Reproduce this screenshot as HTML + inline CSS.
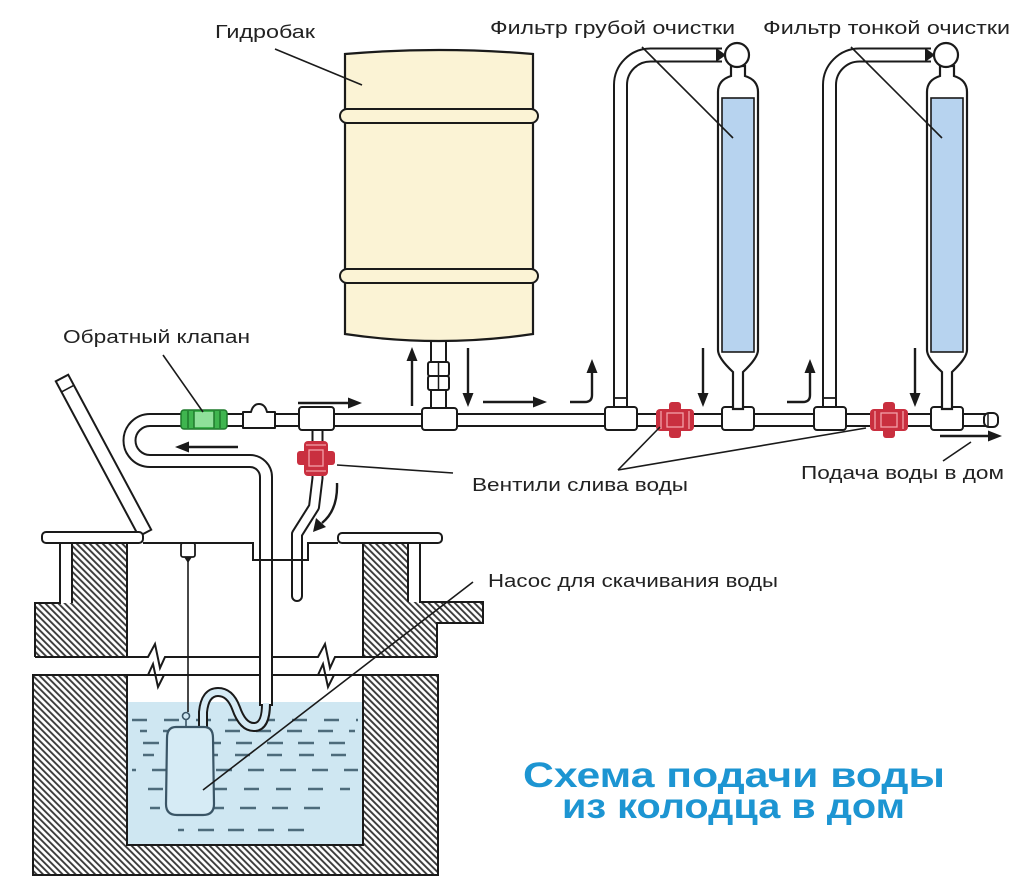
<!DOCTYPE html>
<html><head><meta charset="utf-8"><style>
html,body{margin:0;padding:0;background:#fff;}
svg{display:block;}
text{font-family:"Liberation Sans","DejaVu Sans",sans-serif;fill:#222;}
</style></head><body>
<svg width="1024" height="887" viewBox="0 0 1024 887" xmlns="http://www.w3.org/2000/svg">
<defs>
<pattern id="h" width="4.6" height="4.6" patternUnits="userSpaceOnUse" patternTransform="rotate(-45)">
<rect width="4.6" height="4.6" fill="#fff"/>
<line x1="1" y1="0" x2="1" y2="4.6" stroke="#3a3a3a" stroke-width="1.9"/>
</pattern>
</defs>
<rect width="1024" height="887" fill="#fff"/>

<!-- WELL -->
<rect x="127" y="702" width="236" height="143" fill="#cfe7f2"/>
<g stroke="#4d6b7b" stroke-width="2.6" fill="none">
<line x1="132" y1="720" x2="358" y2="720" stroke-dasharray="15 17"/>
<line x1="140" y1="731" x2="355" y2="731" stroke-dasharray="15 16" stroke-dashoffset="8"/>
<line x1="132" y1="743" x2="358" y2="743" stroke-dasharray="16 15" stroke-dashoffset="20"/>
<line x1="143" y1="755" x2="350" y2="755" stroke-dasharray="15 17" stroke-dashoffset="4"/>
<line x1="132" y1="770" x2="358" y2="770" stroke-dasharray="16 16" stroke-dashoffset="12"/>
<line x1="140" y1="789" x2="350" y2="789" stroke-dasharray="15 17" stroke-dashoffset="24"/>
<line x1="150" y1="808" x2="330" y2="808" stroke-dasharray="16 16" stroke-dashoffset="6"/>
<line x1="178" y1="830" x2="315" y2="830" stroke-dasharray="16 14" stroke-dashoffset="10"/>
</g>
<!-- lower walls -->
<path d="M33,675 H438 V875 H33 Z M127,675 V845 H363 V675 Z" fill="url(#h)" fill-rule="evenodd" stroke="#1a1a1a" stroke-width="2"/>
<!-- upper left wall -->
<path d="M72,543 L127,543 L127,657 L35,657 L35,603 L72,603 Z" fill="url(#h)"/>
<path d="M60,543 L60,603 L35,603 L35,657 M72,543 L72,603 M127,543 L127,657" fill="none" stroke="#1a1a1a" stroke-width="2"/>
<!-- upper right wall -->
<path d="M363,543 L408,543 L408,602 L483,602 L483,623 L437,623 L437,657 L363,657 Z" fill="url(#h)"/>
<path d="M363,543 L363,657 M408,543 L408,602 M420,543 L420,602 L483,602 L483,623 L437,623 L437,657" fill="none" stroke="#1a1a1a" stroke-width="2"/>
<!-- break lines -->
<path d="M35,657 L148,657 L155,644 L160,668 L165,657 L318,657 L325,644 L330,668 L335,657 L437,657" fill="none" stroke="#1a1a1a" stroke-width="2"/>
<path d="M33,675 L148,675 L153,664 L158,687 L164,675 L318,675 L323,664 L328,687 L334,675 L438,675" fill="none" stroke="#1a1a1a" stroke-width="2"/>

<!-- lever -->
<polygon points="55.8,381.3 68.2,374.7 151.2,529.7 138.8,536.3" fill="#fff" stroke="#1a1a1a" stroke-width="2"/>
<line x1="61.5" y1="391.9" x2="73.9" y2="385.3" stroke="#1a1a1a" stroke-width="1.6"/>
<!-- slabs -->
<rect x="42" y="532" width="101" height="11" rx="4" fill="#fff" stroke="#1a1a1a" stroke-width="2"/>
<rect x="338" y="533" width="104" height="10" rx="4" fill="#fff" stroke="#1a1a1a" stroke-width="2"/>

<!-- cable & bolt -->
<line x1="188" y1="558" x2="188" y2="712" stroke="#1a1a1a" stroke-width="1.6"/>
<rect x="181" y="543" width="14" height="14" rx="2" fill="#fff" stroke="#1a1a1a" stroke-width="1.8"/>
<polygon points="184,557 192,557 188,563" fill="#1a1a1a"/>

<!-- PIPES outer -->
<g fill="none" stroke="#1a1a1a" stroke-linejoin="round">
<path d="M990,420 L150,420 A20.5,20.5 0 0 0 150,461 L250,461 A16,16 0 0 1 266,477 L266,706" stroke-width="14"/>
<path d="M438.5,338 L438.5,410" stroke-width="17"/>
<path d="M620.5,410 L620.5,85 A30,30 0 0 1 650.5,55 L722,55" stroke-width="15"/>
<path d="M829.5,410 L829.5,85 A30,30 0 0 1 859.5,55 L931,55" stroke-width="15"/>
<path d="M317.5,428 L317.5,478 L314,507 L297,534 L297,596" stroke-width="12" stroke-linecap="round"/>
</g>
<g fill="none" stroke="#fff" stroke-linejoin="round">
<path d="M990,420 L150,420 A20.5,20.5 0 0 0 150,461 L250,461 A16,16 0 0 1 266,477 L266,707" stroke-width="10"/>
<path d="M438.5,336 L438.5,412" stroke-width="13"/>
<path d="M620.5,412 L620.5,85 A30,30 0 0 1 650.5,55 L724,55" stroke-width="11"/>
<path d="M829.5,412 L829.5,85 A30,30 0 0 1 859.5,55 L933,55" stroke-width="11"/>
<path d="M317.5,426 L317.5,478 L314,507 L297,534 L297,596" stroke-width="8" stroke-linecap="round"/>
</g>
<!-- hose -->
<path d="M203,727 L203,712 Q205,692 218,692 Q230,692 236,708 Q243,728 255,727 Q266,726 266,704" fill="none" stroke="#1a1a1a" stroke-width="10"/>
<path d="M203,729 L203,712 Q205,692 218,692 Q230,692 236,708 Q243,728 255,727 Q266,726 266,703" fill="none" stroke="#d6ebf5" stroke-width="6"/>
<!-- pump -->
<path d="M176,727 L204,727 Q213,727 213,738 L214,804 Q214,815 203,815 L177,815 Q166,815 166,804 L167,738 Q167,727 176,727 Z" fill="#d6ebf5" stroke="#3a5566" stroke-width="2.2"/>
<circle cx="186" cy="716" r="3.5" fill="none" stroke="#3a5566" stroke-width="1.6"/>
<line x1="186" y1="719" x2="186" y2="727" stroke="#3a5566" stroke-width="1.6"/>

<!-- lid line & notch -->
<path d="M143,543 L253,543 L253,560 L308,560 L308,543 L338,543" fill="none" stroke="#1a1a1a" stroke-width="2"/>

<!-- pipe end -->
<rect x="984" y="413" width="14" height="14" rx="5" fill="#fff" stroke="#1a1a1a" stroke-width="2"/>
<line x1="988" y1="414" x2="988" y2="426" stroke="#1a1a1a" stroke-width="1.5"/>

<!-- check valve (green) -->
<rect x="181" y="410" width="46" height="19" rx="3" fill="#3fb54f" stroke="#1f7a2c" stroke-width="1.5"/>
<rect x="194" y="412" width="20" height="15" fill="#8fe09a"/>
<g stroke="#1f7a2c" stroke-width="1.5"><line x1="188" y1="411" x2="188" y2="428"/><line x1="194" y1="411" x2="194" y2="428"/><line x1="214" y1="411" x2="214" y2="428"/><line x1="220" y1="411" x2="220" y2="428"/></g>
<!-- union -->
<path d="M243,412 L251,412 Q253,404 259,404 Q265,404 267,412 L275,412 L275,428 L243,428 Z" fill="#fff" stroke="#1a1a1a" stroke-width="2" stroke-linejoin="round"/>
<!-- T fittings -->
<g fill="#fff" stroke="#1a1a1a" stroke-width="2">
<rect x="299" y="407" width="35" height="23" rx="3"/>
<rect x="422" y="408" width="35" height="22" rx="3"/>
<rect x="605" y="407" width="32" height="23" rx="3"/>
<rect x="722" y="407" width="32" height="23" rx="3"/>
<rect x="814" y="407" width="32" height="23" rx="3"/>
<rect x="931" y="407" width="32" height="23" rx="3"/>
<rect x="428" y="362" width="21" height="14" rx="2"/>
<rect x="428" y="376" width="21" height="14" rx="2"/>
</g>
<line x1="438.5" y1="362" x2="438.5" y2="390" stroke="#1a1a1a" stroke-width="1.5"/>
<g stroke="#1a1a1a" stroke-width="1.8"><line x1="614" y1="398" x2="627" y2="398"/><line x1="823" y1="398" x2="836" y2="398"/></g>

<!-- drain valve (vertical red) -->
<rect x="297" y="451" width="38" height="14" rx="3" fill="#c92f3f"/>
<rect x="304" y="441" width="24" height="35" rx="4" fill="#c92f3f"/>
<g stroke="#f3a0a8" stroke-width="1.3" fill="none"><rect x="309" y="450" width="14" height="16"/><line x1="306" y1="445" x2="326" y2="445"/><line x1="306" y1="471" x2="326" y2="471"/></g>
<!-- red valves horizontal -->
<g>
<rect x="669" y="402" width="12" height="36" rx="3" fill="#c92f3f"/>
<rect x="656" y="409" width="38" height="22" rx="4" fill="#c92f3f"/>
<g stroke="#f3a0a8" stroke-width="1.3" fill="none"><rect x="667" y="413" width="16" height="14"/><line x1="661" y1="411" x2="661" y2="429"/><line x1="689" y1="411" x2="689" y2="429"/></g>
</g>
<g>
<rect x="883" y="402" width="12" height="36" rx="3" fill="#c92f3f"/>
<rect x="870" y="409" width="38" height="22" rx="4" fill="#c92f3f"/>
<g stroke="#f3a0a8" stroke-width="1.3" fill="none"><rect x="881" y="413" width="16" height="14"/><line x1="875" y1="411" x2="875" y2="429"/><line x1="903" y1="411" x2="903" y2="429"/></g>
</g>

<!-- TANK -->
<path d="M345,54 Q439,46 533,54 L533,334 Q439,348 345,334 Z" fill="#fbf3d5" stroke="#1a1a1a" stroke-width="2.2"/>
<rect x="340" y="109" width="198" height="14" rx="7" fill="#fbf3d5" stroke="#1a1a1a" stroke-width="2"/>
<rect x="340" y="269" width="198" height="14" rx="7" fill="#fbf3d5" stroke="#1a1a1a" stroke-width="2"/>

<!-- FILTERS -->
<g id="f1">
<path d="M731,66 L731,76 Q718,80 718,92 L718,350 Q718,358 733,372 L733,409 L743,409 L743,372 Q758,358 758,350 L758,92 Q758,80 745,76 L745,66 Z" fill="#fff" stroke="#1a1a1a" stroke-width="2.2"/>
<rect x="722" y="98" width="32" height="254" fill="#b7d3ef" stroke="#1a1a1a" stroke-width="1.6"/>
<circle cx="737" cy="55" r="12" fill="#fff" stroke="#1a1a1a" stroke-width="2.2"/>
<polygon points="716,48 726,55 716,62" fill="#1a1a1a"/>
</g>
<g transform="translate(209,0)">
<path d="M731,66 L731,76 Q718,80 718,92 L718,350 Q718,358 733,372 L733,409 L743,409 L743,372 Q758,358 758,350 L758,92 Q758,80 745,76 L745,66 Z" fill="#fff" stroke="#1a1a1a" stroke-width="2.2"/>
<rect x="722" y="98" width="32" height="254" fill="#b7d3ef" stroke="#1a1a1a" stroke-width="1.6"/>
<circle cx="737" cy="55" r="12" fill="#fff" stroke="#1a1a1a" stroke-width="2.2"/>
<polygon points="716,48 726,55 716,62" fill="#1a1a1a"/>
</g>

<!-- ARROWS -->
<g stroke="#1a1a1a" stroke-width="2.4" fill="none">
<line x1="412" y1="406" x2="412" y2="358"/>
<line x1="468" y1="348" x2="468" y2="396"/>
<line x1="483" y1="402" x2="535" y2="402"/>
<line x1="298" y1="403" x2="350" y2="403"/>
<line x1="238" y1="447" x2="188" y2="447"/>
<path d="M570,402 H585 Q592,402 592,395 V370"/>
<line x1="703" y1="348" x2="703" y2="396"/>
<path d="M787,402 H803 Q810,402 810,395 V370"/>
<line x1="915" y1="348" x2="915" y2="396"/>
<line x1="940" y1="436" x2="990" y2="436"/>
<path d="M337,483 Q338,510 322,523"/>
</g>
<g fill="#1a1a1a">
<polygon points="412,347 406.5,361 417.5,361"/>
<polygon points="468,407 462.5,393 473.5,393"/>
<polygon points="547,402 533,396.5 533,407.5"/>
<polygon points="362,403 348,397.5 348,408.5"/>
<polygon points="175,447 189,441.5 189,452.5"/>
<polygon points="592,359 586.5,373 597.5,373"/>
<polygon points="703,407 697.5,393 708.5,393"/>
<polygon points="810,359 804.5,373 815.5,373"/>
<polygon points="915,407 909.5,393 920.5,393"/>
<polygon points="1002,436 988,430.5 988,441.5"/>
<polygon points="313,532 316,518 326,527"/>
</g>

<!-- POINTER LINES -->
<g stroke="#1a1a1a" stroke-width="1.6">
<line x1="275" y1="49" x2="362" y2="85"/>
<line x1="642" y1="47" x2="733" y2="138"/>
<line x1="851" y1="47" x2="942" y2="138"/>
<line x1="163" y1="355" x2="203" y2="412"/>
<line x1="337" y1="465" x2="453" y2="473"/>
<line x1="618" y1="470" x2="660" y2="427"/>
<line x1="618" y1="470" x2="866" y2="428"/>
<line x1="943" y1="461" x2="971" y2="442"/>
<line x1="203" y1="790" x2="473" y2="582"/>
</g>

<!-- LABELS -->
<g font-size="18">
<text x="215" y="38" textLength="100" lengthAdjust="spacingAndGlyphs">Гидробак</text>
<text x="490" y="34" textLength="245" lengthAdjust="spacingAndGlyphs">Фильтр грубой очистки</text>
<text x="763" y="34" textLength="247" lengthAdjust="spacingAndGlyphs">Фильтр тонкой очистки</text>
<text x="63" y="343" textLength="187" lengthAdjust="spacingAndGlyphs">Обратный клапан</text>
<text x="472" y="491" textLength="216" lengthAdjust="spacingAndGlyphs">Вентили слива воды</text>
<text x="801" y="479" textLength="203" lengthAdjust="spacingAndGlyphs">Подача воды в дом</text>
<text x="488" y="587" textLength="290" lengthAdjust="spacingAndGlyphs">Насос для скачивания воды</text>
</g>
<g font-size="35" font-weight="bold">
<text x="523" y="787" textLength="422" lengthAdjust="spacingAndGlyphs" style="fill:#1d95d2">Схема подачи воды</text>
<text x="562" y="818" textLength="343" lengthAdjust="spacingAndGlyphs" style="fill:#1d95d2">из колодца в дом</text>
</g>
</svg>
</body></html>
